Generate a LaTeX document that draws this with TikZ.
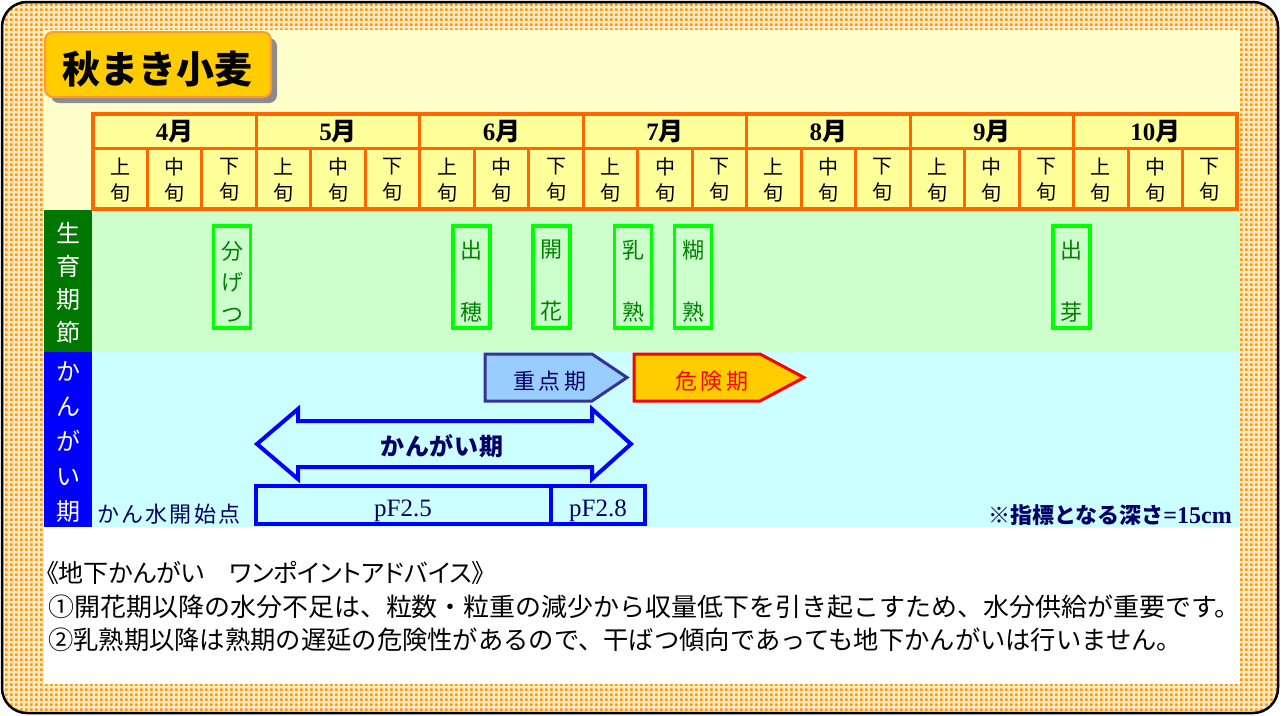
\documentclass[tikz,border=0pt]{standalone}
\usepackage{fontspec}
\newfontfamily\jp{Noto Sans CJK JP}
\newfontfamily\serifb{Liberation Serif}
\usetikzlibrary{patterns}
\pgfdeclarepatternformonly{mycheck}{\pgfqpoint{0pt}{0pt}}{\pgfqpoint{5pt}{5pt}}{\pgfqpoint{5pt}{5pt}}{%
  \pgfpathrectangle{\pgfqpoint{0pt}{0pt}}{\pgfqpoint{3pt}{3pt}}%
  \pgfusepath{fill}}
\definecolor{chk}{HTML}{FF9900}
\definecolor{paleyellow}{HTML}{FFFFCC}
\definecolor{tblfill}{HTML}{FFFF99}
\definecolor{tblorange}{HTML}{FF6600}
\definecolor{titlefill}{HTML}{FFCC00}
\definecolor{titleedge}{HTML}{FF9933}
\definecolor{hdgreen}{HTML}{007700}
\definecolor{hdblue}{HTML}{0000FF}
\definecolor{rowgreen}{HTML}{CCFFCC}
\definecolor{rowcyan}{HTML}{CCFFFF}
\definecolor{stgreen}{HTML}{00FF00}
\definecolor{stdark}{HTML}{008000}
\definecolor{navy}{HTML}{000066}
\definecolor{jtfill}{HTML}{99CCFF}
\definecolor{jtedge}{HTML}{333399}
\begin{document}
\begin{tikzpicture}[x=1pt,y=-1pt,
  tline/.style={draw=tblorange, line width=3pt},
  stagebox/.style={draw=stgreen, line width=3.5pt, minimum width=37pt, minimum height=102pt, inner sep=0pt},
  stagetext/.style={text=stdark, align=center, inner sep=0pt},
  sidelabel/.style={text=white, align=center, inner sep=0pt},
  sublabel/.style={align=center, inner sep=0pt, font={\jp\fontsize{20}{26}\selectfont}},
  monthlabel/.style={inner sep=0pt, font={\bfseries\fontsize{25}{27}\selectfont}},
  bluebox/.style={draw=hdblue, line width=4pt, inner sep=0pt},
  pflabel/.style={text=navy, inner sep=0pt, font={\serifb\fontsize{25}{27}\selectfont}},
  bottomline/.style={anchor=west, inner sep=0pt, font={\jp\fontsize{25.5}{27}\selectfont}}
]
\useasboundingbox (0,0) rectangle (1281,715);
% outer frame with checker band
\fill[chk!22!white, rounded corners=25pt] (2,2) rectangle (1278,713);
\fill[pattern=mycheck, pattern color=chk, rounded corners=25pt] (2,2) rectangle (1278,713);
\fill[paleyellow] (44,30) rectangle (1240,527);
\fill[white] (44,527) rectangle (1240,684);
\draw[black, line width=2.5pt, rounded corners=25pt] (2,2) rectangle (1278,713);

% title
\fill[gray!90, rounded corners=8pt] (51,38) rectangle (277,103);
\draw[draw=titleedge, fill=titlefill, line width=2pt, rounded corners=8pt] (45,32) rectangle (271,97);
\node[inner sep=0pt, font={\jp\bfseries\fontsize{38}{40}\selectfont}] (title) at (157,69) {秋まき小麦};

% row backgrounds
\fill[rowgreen] (92,210) rectangle (1240,352);
\fill[rowcyan] (92,352) rectangle (1240,527);
\fill[hdgreen] (44,210) rectangle (92,352);
\fill[hdblue] (44,352) rectangle (92,527);
\node[sidelabel, font={\jp\fontsize{24}{33}\selectfont}] (stagehead) at (68,282.5) {生\\育\\期\\節};
\node[sidelabel, font={\jp\fontsize{24}{35}\selectfont}] (irrhead) at (68,442) {か\\ん\\が\\い\\期};

% table
\fill[tblfill] (93,114) rectangle (1237,209);
\draw[tline] (93,148) -- (1237,148);
\foreach \i in {1,...,20}{
  \pgfmathtruncatemacro\k{mod(\i,3)}
  \ifnum\k=0
    \draw[tline] ({93+54.476*\i},114) -- ({93+54.476*\i},209);
  \else
    \draw[tline] ({93+54.476*\i},148) -- ({93+54.476*\i},209);
  \fi
}
\draw[draw=tblorange, line width=4.5pt] (93,114) rectangle (1237,209);
\foreach \m [count=\j from 0] in {4,...,10}{
  \node[monthlabel] (m\m) at ({93+54.476*(3*\j+1.5)},132) {{\serifb\m}{\jp 月}};
}
\foreach \i in {0,...,20}{
  \pgfmathtruncatemacro\k{mod(\i,3)}
  \node[sublabel] (s\i) at ({93+54.476*(\i+0.5)},180) {\ifcase\k 上\or 中\or 下\fi\\旬};
}

% growth stages
\node[stagebox] (b1) at (232,277) {};
\node[stagetext, font={\jp\fontsize{22}{31.5}\selectfont}] (t1) at (232,281.5) {分\\げ\\つ};
\node[stagebox] (b2) at (471.5,277) {};
\node[stagetext, font={\jp\fontsize{22}{62}\selectfont}] (t2) at (471.5,281) {出\\穂};
\node[stagebox] (b3) at (551.5,277) {};
\node[stagetext, font={\jp\fontsize{22}{62}\selectfont}] (t3) at (551.5,281) {開\\花};
\node[stagebox] (b4) at (633,277) {};
\node[stagetext, font={\jp\fontsize{22}{62}\selectfont}] (t4) at (633,281) {乳\\熟};
\node[stagebox] (b5) at (693,277) {};
\node[stagetext, font={\jp\fontsize{22}{62}\selectfont}] (t5) at (693,281) {糊\\熟};
\node[stagebox] (b6) at (1071.5,277) {};
\node[stagetext, font={\jp\fontsize{22}{62}\selectfont}] (t6) at (1071.5,281) {出\\芽};

% key periods
\draw[draw=jtedge, fill=jtfill, line width=3pt] (485,354) -- (592,354) -- (627,377.5) -- (592,401) -- (485,401) -- cycle;
\node[inner sep=0pt, text=navy, font={\jp\fontsize{22}{24}\selectfont\addfontfeatures{LetterSpace=18}}] (jut) at (550,381) {重点期};
\draw[draw=red, fill=titlefill, line width=3pt] (634,354) -- (760,354) -- (804,377.5) -- (760,401) -- (634,401) -- cycle;
\node[inner sep=0pt, text=red, font={\jp\fontsize{22}{24}\selectfont\addfontfeatures{LetterSpace=18}}] (kik) at (712,381) {危険期};

% irrigation double arrow
\draw[draw=hdblue, line width=4pt, line join=miter] (257,444) -- (298,409) -- (298,421) -- (592,421) -- (592,409) -- (631,444) -- (592,479) -- (592,467) -- (298,467) -- (298,479) -- cycle;
\node[inner sep=0pt, text=navy, font={\jp\bfseries\fontsize{24}{26}\selectfont\addfontfeatures{LetterSpace=4}}] (kangai) at (442,446) {かんがい期};

% pF boxes
\node[bluebox, minimum width=295pt, minimum height=38pt] (pf1) at (403.5,505) {};
\node[bluebox, minimum width=94pt, minimum height=38pt] (pf2) at (598,505) {};
\node[pflabel] (pf1t) at (403,511) {pF2.5};
\node[pflabel] (pf2t) at (598,511) {pF2.8};
\node[inner sep=0pt, text=navy, anchor=west, font={\jp\fontsize{22}{24}\selectfont\addfontfeatures{LetterSpace=10}}] (kansui) at (97,514) {かん水開始点};
\node[inner sep=0pt, text=navy, anchor=east] (depth) at (1232,515) {{\jp\bfseries\fontsize{22}{24}\selectfont ※指標となる深さ}{\serifb\bfseries\fontsize{24}{24}\selectfont =15cm}};

% advice text
\node[bottomline, font={\jp\fontsize{25}{27}\selectfont\addfontfeatures{RawFeature=+palt}}] (adv0) at (46,573) {《地下かんがい　ワンポイントアドバイス》};
\node[bottomline] (adv1) at (48,607) {\scalebox{1.019}[1]{①開花期以降の水分不足は、粒数・粒重の減少から収量低下を引き起こすため、水分供給が重要です。}};
\node[bottomline] (adv2) at (48,640) {\scalebox{0.992}[1]{②乳熟期以降は熟期の遅延の危険性があるので、干ばつ傾向であっても地下かんがいは行いません。}};
\end{tikzpicture}
\end{document}
